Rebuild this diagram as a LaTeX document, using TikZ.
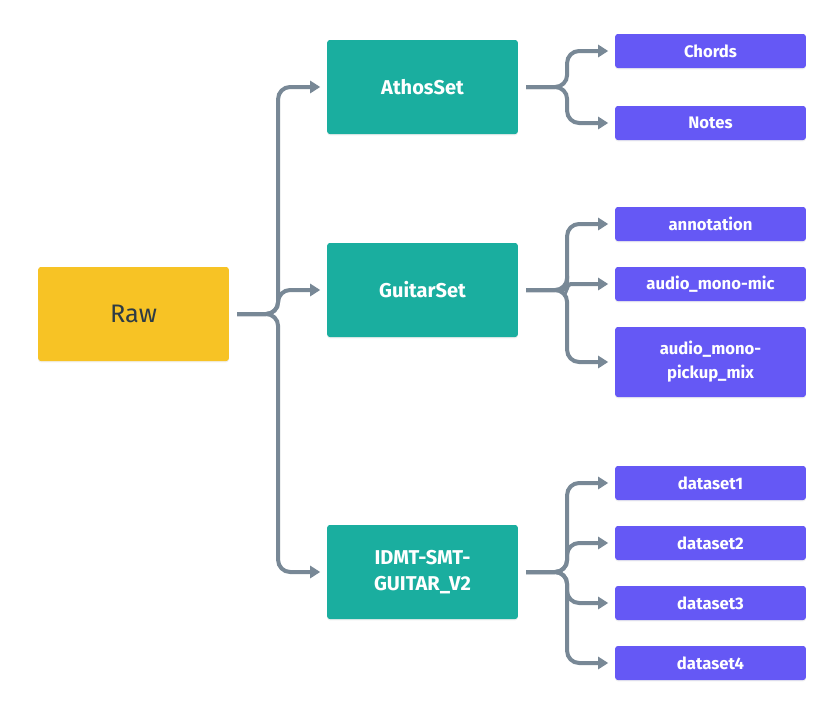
\documentclass[tikz,border=0pt]{standalone}
\usepackage{fontspec}
\setmainfont{Fira Sans}
\usetikzlibrary{positioning}
\usetikzlibrary{arrows.meta}
\usetikzlibrary{shadows}
\definecolor{rawyellow}{HTML}{F7C325}
\definecolor{setteal}{HTML}{1AAE9F}
\definecolor{leafpurple}{HTML}{6558F5}
\definecolor{linegray}{HTML}{788896}
\definecolor{rawtext}{HTML}{2D3B45}
\begin{document}
\begin{tikzpicture}[x = 0.75pt, y = -0.75pt,
	box/.style = {rounded corners = 2pt, minimum width = 143pt, align = center, inner sep = 2pt,
		drop shadow = {opacity = 0.12, shadow xshift = 0pt, shadow yshift = -1pt}},
	rawbox/.style = {box, fill = rawyellow, minimum height = 70.5pt, text = rawtext, font = \fontsize{19}{23}\selectfont},
	setbox/.style = {box, fill = setteal, minimum height = 70.5pt, text = white, font = \bfseries\fontsize{15}{20}\selectfont},
	leafbox/.style = {box, fill = leafpurple, minimum height = 25.5pt, text = white, font = \bfseries\fontsize{12.5}{18}\selectfont},
	conn/.style = {linegray, line width = 3pt, rounded corners = 9pt, shorten < = 6pt, shorten > = 5pt,
		-{Triangle[length = 7.5pt, width = 9pt]}}]
	\useasboundingbox (0, 0) rectangle (836, 714);
	\fill [white] (0, 0) rectangle (836, 714);
	% root and sets
	\node [rawbox] (raw) at (133.5, 314) {Raw};
	\node [setbox] (athos) at (422.5, 87) {AthosSet};
	\node [setbox] (guitar) at (422.5, 290) {GuitarSet};
	\node [setbox] (idmt) at (422.5, 572) {IDMT-SMT-\\GUITAR\_V2};
	% leaves
	\node [leafbox] (chords) at (710.5, 51) {Chords};
	\node [leafbox] (notes) at (710.5, 123) {Notes};
	\node [leafbox] (annot) at (710.5, 224) {annotation};
	\node [leafbox] (mic) at (710.5, 284) {audio\_mono-mic};
	\node [leafbox, minimum height = 52.5pt] (pickup) at (710.5, 362) {audio\_mono-\\pickup\_mix};
	\node [leafbox] (ds1) at (710.5, 483) {dataset1};
	\node [leafbox] (ds2) at (710.5, 543) {dataset2};
	\node [leafbox] (ds3) at (710.5, 603) {dataset3};
	\node [leafbox] (ds4) at (710.5, 663) {dataset4};
	% connectors
	\foreach \to in {athos, guitar, idmt}
		\draw [conn] (raw.east) -- ++(49, 0) |- (\to.west);
	\foreach \to in {chords, notes}
		\draw [conn] (athos.east) -- ++(49, 0) |- (\to.west);
	\foreach \to in {annot, pickup}
		\draw [conn] (guitar.east) -- ++(49, 0) |- (\to.west);
	\draw [conn, rounded corners = 3pt] (guitar.east) -- ++(49, 0) |- (mic.west);
	\foreach \to in {ds1, ds2, ds3, ds4}
		\draw [conn] (idmt.east) -- ++(49, 0) |- (\to.west);
\end{tikzpicture}
\end{document}
